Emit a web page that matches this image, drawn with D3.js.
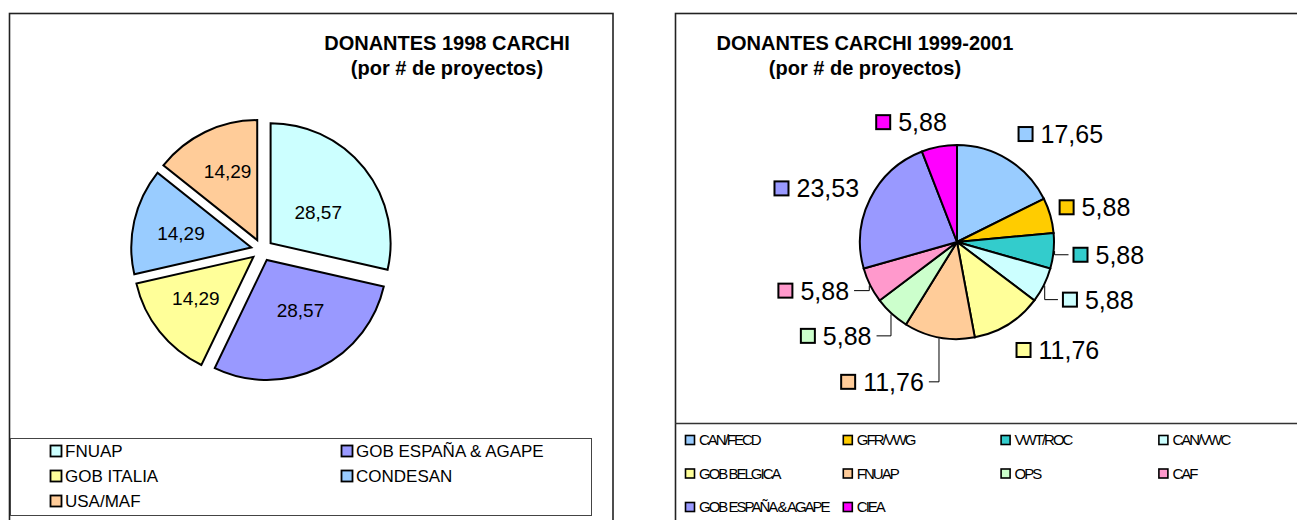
<!DOCTYPE html>
<html>
<head>
<meta charset="utf-8">
<script src="https://cdn.jsdelivr.net/npm/d3@7/dist/d3.min.js"></script>
<style>
  body { margin: 0; background: #fff; }
  svg { font-family: Arial, "Liberation Sans", sans-serif; }
</style>
</head>
<body>
<svg id="chart" width="1297" height="520"></svg>
<script>
// --- data (percent of projects) ---
var donors1998 = ['FNUAP', 'GOB ESPAÑA & AGAPE', 'GOB ITALIA', 'CONDESAN', 'USA/MAF'];
var shares1998 = [28.57, 28.57, 14.29, 14.29, 14.29];
var colors1998 = ['#CCFFFF', '#9999FF', '#FFFF99', '#99CCFF', '#FFCC99'];

var donors9901 = ['CAN/FECD', 'GFR/VWG', 'VWT/ROC', 'CAN/VWC', 'GOB BELGICA',
                  'FNUAP', 'OPS', 'CAF', 'GOB ESPAÑA & AGAPE', 'CIEA'];
var shares9901 = [17.65, 5.88, 5.88, 5.88, 11.76, 11.76, 5.88, 5.88, 23.53, 5.88];
var colors9901 = ['#99CCFF', '#FFCC00', '#33CCCC', '#CCFFFF', '#FFFF99',
                  '#FFCC99', '#CCFFCC', '#FF99CC', '#9999FF', '#FF00FF'];

// label tweaks (Excel placed / moved some labels by hand)
var labelNudge1998 = [[-4, 10], [5, -9], [-6, 0], [-6, 0], [-1, -9]];
var labelNudge9901 = [[0, 0], [-9, 0], [1, 1], [2, 1], [-2, 0], [-12, 15], [-8, 0], [-5, -8], [5, 3], [11, 5]];
var leader9901 = [false, false, true, true, false, true, true, true, false, false];

var svg = d3.select('#chart');
var fmt = d3.formatLocale({decimal: ',', thousands: '.', grouping: [3], currency: ['', '']}).format('.2f');
var pie = d3.pie().sort(null).value(function(d) { return d.value; });

function rows(names, values, colors) {
    return names.map(function(n, i) { return {name: n, value: values[i], color: colors[i], i: i}; });
}
function midAngle(d) { return (d.startAngle + d.endAngle) / 2; }

// ---------------- left panel: 1998 ----------------
svg.append('rect')
    .attr('x', 9.5).attr('y', 13.5).attr('width', 603.5).attr('height', 540)
    .attr('fill', 'none').attr('stroke', '#222').attr('stroke-width', 1.6);

var titleL = svg.append('text').attr('text-anchor', 'middle').style('font-weight', 'bold').style('font-size', '20px');
titleL.append('tspan').attr('x', 447).attr('y', 50).text('DONANTES 1998 CARCHI');
titleL.append('tspan').attr('x', 447).attr('y', 75).text('(por # de proyectos)');

var pieL = {cx: 262, cy: 250, r: 120, explode: 11};
var arcL = d3.arc().innerRadius(0).outerRadius(pieL.r);

var gL = svg.append('g').attr('transform', 'translate(' + pieL.cx + ',' + pieL.cy + ')');
var slicesL = gL.selectAll('g.slice')
    .data(pie(rows(donors1998, shares1998, colors1998)))
    .enter().append('g')
    .attr('class', 'slice')
    .attr('transform', function(d) {
        var a = midAngle(d);
        return 'translate(' + (pieL.explode * Math.sin(a)) + ',' + (-pieL.explode * Math.cos(a)) + ')';
    });

slicesL.append('path')
    .attr('d', arcL)
    .attr('fill', function(d) { return d.data.color; })
    .attr('stroke', '#000').attr('stroke-width', 2).attr('stroke-linejoin', 'miter');

slicesL.append('text')
    .attr('x', function(d) { return Math.sin(midAngle(d)) * pieL.r * 0.55 + labelNudge1998[d.index][0]; })
    .attr('y', function(d) { return -Math.cos(midAngle(d)) * pieL.r * 0.55 + labelNudge1998[d.index][1]; })
    .attr('text-anchor', 'middle').attr('dy', '0.35em')
    .style('font-size', '19px').attr('fill', '#000')
    .text(function(d) { return fmt(d.data.value); });

// legend box
svg.append('rect')
    .attr('x', 10.5).attr('y', 438.5).attr('width', 581).attr('height', 77)
    .attr('fill', '#fff').attr('stroke', '#444').attr('stroke-width', 1);

var legL = svg.selectAll('g.legL')
    .data(rows(donors1998, shares1998, colors1998))
    .enter().append('g')
    .attr('class', 'legL')
    .attr('transform', function(d) {
        return 'translate(' + (50 + (d.i % 2) * 291) + ',' + (451 + Math.floor(d.i / 2) * 25) + ')';
    });
legL.append('rect')
    .attr('x', 0.5).attr('y', -5.5).attr('width', 11).attr('height', 11)
    .attr('fill', function(d) { return d.color; })
    .attr('stroke', '#000').attr('stroke-width', 1.8);
legL.append('text')
    .attr('x', 15).attr('dy', '0.36em')
    .style('font-size', '17px')
    .text(function(d) { return d.name; });

// ---------------- right panel: 1999-2001 ----------------
svg.append('rect')
    .attr('x', 675.5).attr('y', 13.5).attr('width', 700).attr('height', 540)
    .attr('fill', 'none').attr('stroke', '#222').attr('stroke-width', 1.6);

var titleR = svg.append('text').attr('text-anchor', 'middle').style('font-weight', 'bold').style('font-size', '20px');
titleR.append('tspan').attr('x', 865).attr('y', 50).text('DONANTES CARCHI 1999-2001');
titleR.append('tspan').attr('x', 865).attr('y', 75).text('(por # de proyectos)');

var pieR = {cx: 957, cy: 242, r: 97, labelGap: 18};
var arcR = d3.arc().innerRadius(0).outerRadius(pieR.r);
var gR = svg.append('g').attr('transform', 'translate(' + pieR.cx + ',' + pieR.cy + ')');
var arcsR = pie(rows(donors9901, shares9901, colors9901));

gR.selectAll('path.slice')
    .data(arcsR)
    .enter().append('path')
    .attr('class', 'slice')
    .attr('d', arcR)
    .attr('fill', function(d) { return d.data.color; })
    .attr('stroke', '#000').attr('stroke-width', 2);

// outside labels: swatch + value
var labR = gR.selectAll('g.lab')
    .data(arcsR)
    .enter().append('g')
    .attr('class', 'lab');

labR.append('text')
    .attr('class', 'val')
    .attr('x', 23).attr('dy', '0.36em')
    .style('font-size', '25px')
    .text(function(d) { return fmt(d.data.value); });

labR.append('rect')
    .attr('x', 1).attr('y', -7).attr('width', 14).attr('height', 14)
    .attr('fill', function(d) { return d.data.color; })
    .attr('stroke', '#000').attr('stroke-width', 2);

labR.each(function(d) {
    var g = d3.select(this);
    var a = midAngle(d), s = Math.sin(a), c = Math.cos(a);
    var R = pieR.r + pieR.labelGap;
    var px = s * R, py = -c * R;
    var w = 23 + g.select('text.val').node().getComputedTextLength();
    var nudge = labelNudge9901[d.index];
    var left = (s >= 0 ? px : px - w) + nudge[0];
    var cy = py - c * 12 + nudge[1];
    g.attr('transform', 'translate(' + left + ',' + cy + ')');

    if (leader9901[d.index]) {
        var sx = s * (pieR.r + 1), sy = -c * (pieR.r + 1);
        var ex = s >= 0 ? left - 4 : left + w + 5;
        gR.append('polyline')
            .attr('points', [[sx, sy], [sx, cy], [ex, cy]].map(function(p) { return p.join(','); }).join(' '))
            .attr('fill', 'none').attr('stroke', '#000').attr('stroke-width', 1);
    }
});

// legend strip
svg.append('line')
    .attr('x1', 675).attr('x2', 1297).attr('y1', 423.5).attr('y2', 423.5)
    .attr('stroke', '#333').attr('stroke-width', 1.5);

var legR = svg.selectAll('g.legR')
    .data(rows(donors9901, shares9901, colors9901))
    .enter().append('g')
    .attr('class', 'legR')
    .attr('transform', function(d) {
        return 'translate(' + (685 + (d.i % 4) * 157.8) + ',' + (440 + Math.floor(d.i / 4) * 33.5) + ')';
    });
legR.append('rect')
    .attr('x', 0.5).attr('y', -4.5).attr('width', 9).attr('height', 9)
    .attr('fill', function(d) { return d.color; })
    .attr('stroke', '#000').attr('stroke-width', 1.6);
legR.append('text')
    .attr('x', 14).attr('dy', '0.36em')
    .style('font-size', '15px').style('letter-spacing', '-2px')
    .text(function(d) { return d.name; });
</script>
</body>
</html>
